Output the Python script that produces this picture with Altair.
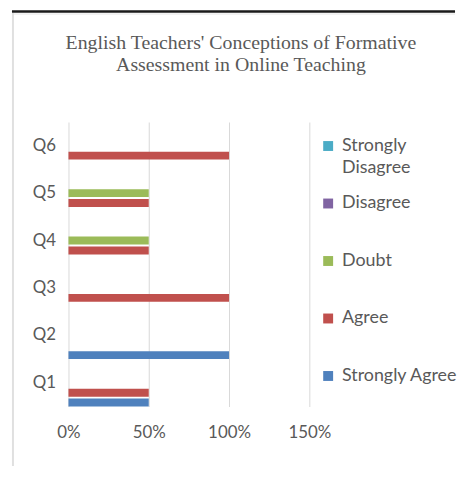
import altair as alt
import pandas as pd

questions = ["Q1", "Q2", "Q3", "Q4", "Q5", "Q6"]
series = ["Strongly Agree", "Agree", "Doubt", "Disagree", "Strongly Disagree"]
strongly_agree = [50, 100, 0, 0, 0, 0]
agree = [50, 0, 100, 50, 50, 100]
doubt = [0, 0, 0, 50, 50, 0]
disagree = [0, 0, 0, 0, 0, 0]
strongly_disagree = [0, 0, 0, 0, 0, 0]
colors = ["#4F81BD", "#C0504D", "#9BBB59", "#8064A2", "#4BACC6"]
legend_line1 = ["Strongly Agree", "Agree", "Doubt", "Disagree", "Strongly"]
legend_line2 = ["", "", "", "", "Disagree"]
x_ticks = [0, 0.5, 1.0, 1.5]
title_lines = ["English Teachers' Conceptions of Formative", "Assessment in Online Teaching"]

rows = []
for s, vals in zip(series, [strongly_agree, agree, doubt, disagree, strongly_disagree]):
    for q, v in zip(questions, vals):
        rows.append({"question": q, "series": s, "value": v / 100})
df = pd.DataFrame(rows)

y_order = list(reversed(questions))
offset_order = list(reversed(series))
label_color = "#595959"
font = "Lato"

color_scale = alt.Scale(domain=series, range=colors)

bars = alt.Chart(df).mark_bar().encode(
    y=alt.Y("question:N", sort=y_order,
            scale=alt.Scale(paddingInner=0, paddingOuter=0),
            axis=alt.Axis(title=None, domain=False, ticks=False, labelPadding=13,
                          labelFontSize=17, labelColor=label_color, labelFont=font, grid=False)),
    x=alt.X("value:Q", scale=alt.Scale(domain=[0, 1.5], nice=False),
            axis=alt.Axis(format="%", values=x_ticks, title=None, domain=False, ticks=False,
                          gridColor="#d9d9d9", labelPadding=18, labelFontSize=17,
                          labelFlush=False, labelColor=label_color, labelFont=font)),
    yOffset=alt.YOffset("series:N", sort=offset_order,
                        scale=alt.Scale(paddingInner=0.2, paddingOuter=0)),
    color=alt.Color("series:N", scale=color_scale, legend=None),
)

one = pd.DataFrame({"k": [0]})
top_rule = alt.Chart(one).mark_rule(color="#1a1a1a", strokeWidth=2.5).encode(
    x=alt.value(-57), x2=alt.value(390), y=alt.value(-111.5))
top_rule2 = alt.Chart(one).mark_rule(color="#e6e6e6", strokeWidth=1).encode(
    x=alt.value(-57), x2=alt.value(390), y=alt.value(-109))
left_rule = alt.Chart(one).mark_rule(color="#e0e0e0", strokeWidth=2).encode(
    x=alt.value(-56), y=alt.value(-110), y2=alt.value(347))
title_df = pd.DataFrame({"line": title_lines, "order": [0, 1]})
title1 = alt.Chart(title_df).transform_filter("datum.order == 0").mark_text(
    font="Liberation Serif", fontSize=20, color=label_color, align="center",
    baseline="alphabetic").encode(x=alt.value(174), y=alt.value(-74), text="line:N")
title2 = alt.Chart(title_df).transform_filter("datum.order == 1").mark_text(
    font="Liberation Serif", fontSize=20, color=label_color, align="center",
    baseline="alphabetic").encode(x=alt.value(174), y=alt.value(-51), text="line:N")

main = alt.layer(bars, top_rule, top_rule2, left_rule, title1, title2).properties(
    width=243, height=287)

leg_df = pd.DataFrame({"series": series, "line1": legend_line1, "line2": legend_line2})
leg_base = alt.Chart(leg_df).encode(
    y=alt.Y("series:N", sort=offset_order,
            scale=alt.Scale(type="point", padding=0.474, align=0.44), axis=None)
)
sq = leg_base.mark_square(size=100, opacity=1).encode(
    x=alt.value(14), color=alt.Color("series:N", scale=color_scale, legend=None))
t1 = leg_base.mark_text(align="left", baseline="middle", fontSize=18, font=font,
                        color=label_color).encode(x=alt.value(28), text="line1:N")
t2 = leg_base.mark_text(align="left", baseline="middle", fontSize=18, font=font,
                        color=label_color, dy=22).encode(x=alt.value(28), text="line2:N")
legend = alt.layer(sq, t1, t2).properties(width=135, height=287)

chart = alt.hconcat(main, legend, spacing=5, bounds="flush").properties(
    padding={"left": 2, "top": 0, "right": 0, "bottom": 0},
).configure_view(stroke=None)

chart.save("out.html", embed_options={"renderer": "svg", "actions": False})
